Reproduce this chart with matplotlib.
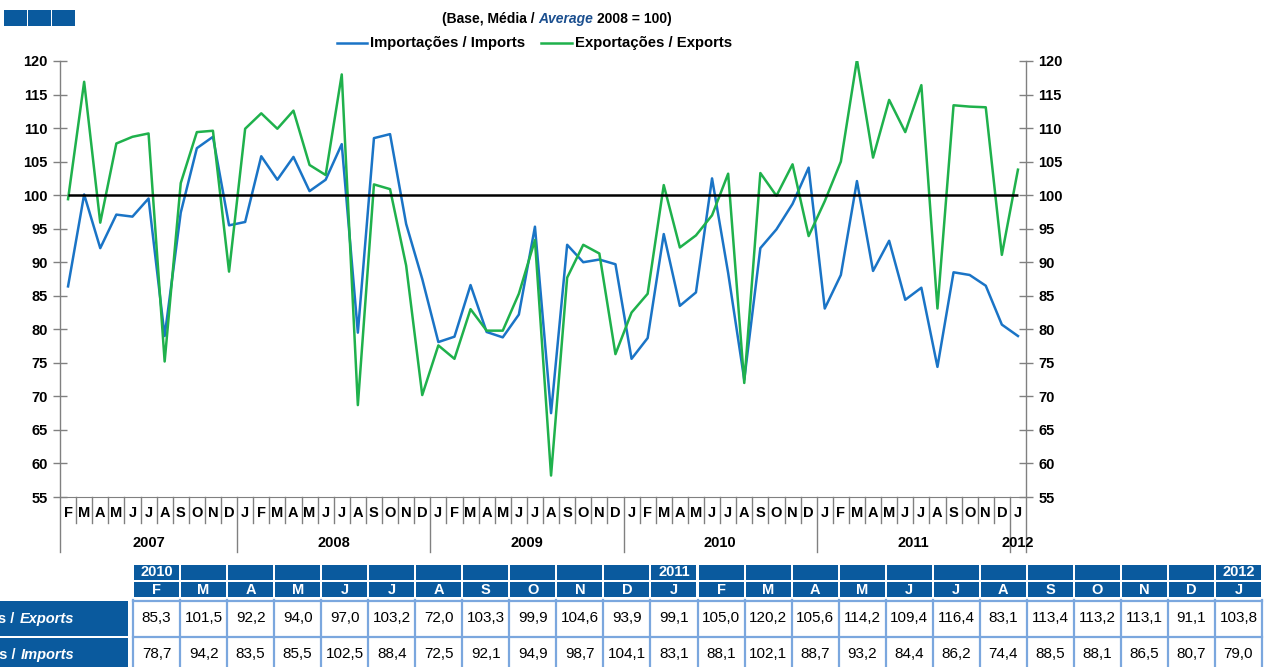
import numpy as np
import matplotlib.pyplot as plt
import matplotlib.transforms as mtransforms
from matplotlib.patches import Rectangle
from matplotlib.lines import Line2D

plt.rcParams['font.family'] = ['Liberation Sans', 'DejaVu Sans']
plt.rcParams['font.weight'] = 'bold'

# monthly index, Feb 2007 .. Jan 2012 (base: average 2008 = 100)
months = (['F', 'M', 'A', 'M', 'J', 'J', 'A', 'S', 'O', 'N', 'D']
          + ['J', 'F', 'M', 'A', 'M', 'J', 'J', 'A', 'S', 'O', 'N', 'D'] * 4
          + ['J'])
years = ['2007', '2008', '2009', '2010', '2011', '2012']
year_first = [0, 11, 23, 35, 47, 59]

imports = [86.4, 100.1, 92.1, 97.1, 96.8, 99.5, 79.0, 97.4, 107.0, 108.7, 95.5,
           96.0, 105.8, 102.3, 105.7, 100.6, 102.3, 107.6, 79.5, 108.5, 109.1, 95.7, 87.5,
           78.1, 78.9, 86.6, 79.6, 78.8, 82.2, 95.3, 67.5, 92.6, 90.0, 90.4, 89.7,
           75.6, 78.7, 94.2, 83.5, 85.5, 102.5, 88.4, 72.5, 92.1, 94.9, 98.7, 104.1,
           83.1, 88.1, 102.1, 88.7, 93.2, 84.4, 86.2, 74.4, 88.5, 88.1, 86.5, 80.7,
           79.0]
exports = [99.4, 116.9, 95.9, 107.7, 108.7, 109.2, 75.2, 101.8, 109.4, 109.6, 88.6,
           109.9, 112.2, 109.9, 112.6, 104.5, 103.0, 118.0, 68.7, 101.6, 100.9, 89.5, 70.2,
           77.6, 75.6, 83.0, 79.8, 79.8, 85.3, 93.3, 58.2, 87.7, 92.6, 91.3, 76.3,
           82.5, 85.3, 101.5, 92.2, 94.0, 97.0, 103.2, 72.0, 103.3, 99.9, 104.6, 93.9,
           99.1, 105.0, 120.2, 105.6, 114.2, 109.4, 116.4, 83.1, 113.4, 113.2, 113.1, 91.1,
           103.8]

# the table under the chart shows the last 24 months
table_start = 36
table_years = {0: '2010', 11: '2011', 23: '2012'}

blue = '#1a74c6'
green = '#1fb14c'
navy = '#0a5a9e'
grey = '#808080'

W, H = 1269, 667
fig = plt.figure(figsize=(W / 100, H / 100), dpi=100)
# pixel coords measured from the top left corner
pix = mtransforms.Affine2D().scale(1, -1).translate(0, H)

ax = fig.add_axes([60 / W, 1 - 497 / H, 966 / W, 436 / H])
x = np.arange(len(imports))
ax.plot(x, imports, color=blue, lw=1.8, zorder=3)
ax.plot(x, exports, color=green, lw=1.8, zorder=3)
ax.hlines(100, 0, len(x) - 1, colors='black', lw=1.8, zorder=4)

ax.set_xlim(-0.5, len(x) - 0.5)
ax.set_ylim(55, 120)
ax.set_yticks(range(55, 121, 5))
ax.set_xticks([])
ax.tick_params(axis='y', direction='inout', length=10, width=1, color=grey,
               labelsize=10.5, left=True, right=True, labelleft=True,
               labelright=True, pad=4)
for s in ['top', 'left', 'right']:
    ax.spines[s].set_visible(False)
ax.spines['bottom'].set_color(grey)

tr = ax.get_xaxis_transform()
# month cells and year separators below the axis
for i in range(len(x)):
    ax.text(i, -0.037, months[i], transform=tr, ha='center', va='center',
            fontsize=10.5)
for i in range(len(x) + 1):
    bottom = -0.126 if (i in year_first or i == len(x)) else -0.06
    top = 1 if i in (0, len(x)) else 0
    ax.add_line(Line2D([i - 0.5, i - 0.5], [bottom, top], transform=tr,
                       color=grey, lw=1, clip_on=False))
for k, yr in enumerate(years):
    a = year_first[k] - 0.5
    b = (year_first[k + 1] if k + 1 < len(years) else len(x)) - 0.5
    ax.text((a + b) / 2, -0.106, yr, transform=tr, ha='center', va='center',
            fontsize=10.5)

# three squares top left
for i in range(3):
    fig.patches.append(Rectangle((4 + i * 24, 10), 23, 16, transform=pix,
                                 facecolor=navy, edgecolor='none'))

fig.canvas.draw()
rend = fig.canvas.get_renderer()


def width(t):
    return t.get_window_extent(rend).width


def fit(t, target):
    t.set_fontsize(t.get_fontsize() * target / width(t))


# subtitle with the blue italic word
s1 = fig.text(0, 19, '(Base, Média /', transform=pix, va='center', fontsize=10)
s2 = fig.text(0, 19, 'Average', transform=pix, va='center', fontsize=10,
              style='italic', color='#1b4f8f')
s3 = fig.text(0, 19, '2008 = 100)', transform=pix, va='center', fontsize=10)
w1, w2, w3 = width(s1), width(s2), width(s3)
gap = 4
total = w1 + w2 + w3 + 2 * gap
x0 = 557 - total / 2
s1.set_x(x0)
s2.set_x(x0 + w1 + gap)
s3.set_x(x0 + w1 + w2 + 2 * gap)

# legend
for lx0, lx1, c, lab, tx, tw in [(337, 367, blue, 'Importações / Imports', 370, 157),
                                  (541, 572, green, 'Exportações / Exports', 575, 158)]:
    fig.lines.append(Line2D([lx0, lx1], [43, 43], transform=pix, color=c, lw=1.8))
    t = fig.text(tx, 43, lab, transform=pix, va='center', fontsize=10.5)
    fit(t, tw)

# table
tx0 = 133
cw = (1262 - 133) / 24
ncol = len(x) - table_start
for j in range(ncol):
    cx = tx0 + j * cw
    fig.patches.append(Rectangle((cx + 1, 565), cw - 2, 15, transform=pix,
                                 facecolor=navy, edgecolor='none'))
    fig.patches.append(Rectangle((cx + 1, 582), cw - 2, 15, transform=pix,
                                 facecolor=navy, edgecolor='none'))
    if j in table_years:
        fig.text(cx + cw / 2, 572.5, table_years[j], transform=pix, ha='center',
                 va='center', color='white', fontsize=10.5)
    fig.text(cx + cw / 2, 589.5, months[table_start + j], transform=pix,
             ha='center', va='center', color='white', fontsize=10.5)
    k = table_start + j
    for yy, v in [(618, exports[k]), (654, imports[k])]:
        fig.text(cx + cw / 2, yy, f'{v:.1f}'.replace('.', ','), transform=pix,
                 ha='center', va='center', fontsize=11, fontweight='normal')

edge = '#7ba7de'
for j in range(ncol + 1):
    cx = tx0 + j * cw
    fig.lines.append(Line2D([cx, cx], [600, 670], transform=pix, color=edge, lw=1.6))
for yy in [600.5, 637]:
    fig.lines.append(Line2D([tx0, tx0 + ncol * cw], [yy, yy], transform=pix,
                            color=edge, lw=1.6))

# row headers, cut by the left edge as in the source
for yt, yb, main, it in [(601, 636, 'Exportações / ', 'Exports'),
                         (638, 672, 'Importações / ', 'Imports')]:
    fig.patches.append(Rectangle((0, yt), 128, yb - yt, transform=pix,
                                 facecolor=navy, edgecolor='none'))
    ym = (yt + yb) / 2
    ti = fig.text(74, ym, it, transform=pix, ha='right', va='center',
                  color='white', fontsize=10.5, style='italic')
    tm = fig.text(74 - width(ti) - 1, ym, main, transform=pix, ha='right',
                  va='center', color='white', fontsize=10.5)

fig.savefig('out.png', dpi=100)
